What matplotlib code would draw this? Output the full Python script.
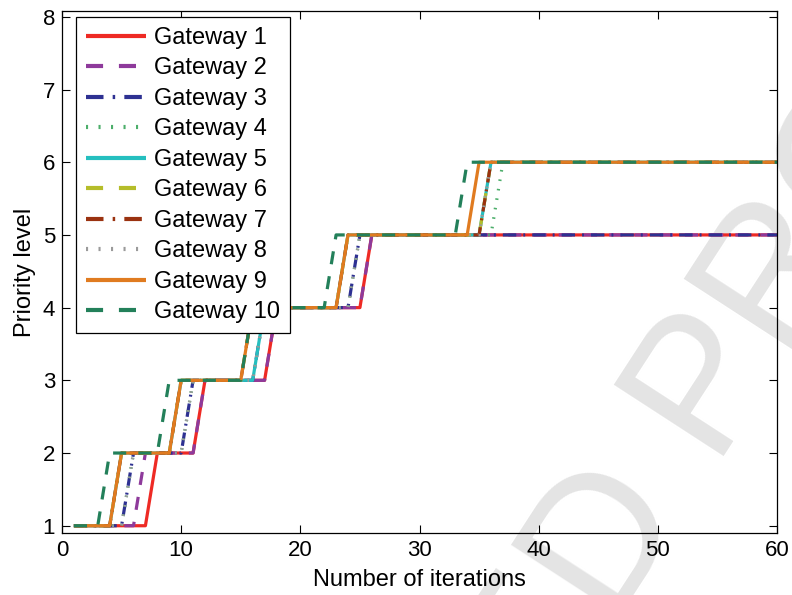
import matplotlib
matplotlib.use("Agg")
import matplotlib.pyplot as plt

plt.rcParams['font.family'] = ['Liberation Sans', 'DejaVu Sans']

# Vertices of each gateway's priority trajectory (iteration, priority level)
g1_x = [1, 7, 8, 11, 12, 17, 18, 25, 26, 60]
g1_y = [1, 1, 2, 2, 3, 3, 4, 4, 5, 5]
g2_x = [1, 6, 7, 11, 12, 17, 18, 25, 26, 60]
g2_y = [1, 1, 2, 2, 3, 3, 4, 4, 5, 5]
g3_x = [1, 5, 6, 10, 11, 16, 17, 24, 25, 60]
g3_y = [1, 1, 2, 2, 3, 3, 4, 4, 5, 5]
g4_x = [1, 5, 6, 10, 11, 16, 17, 24, 25, 36, 37, 60]
g4_y = [1, 1, 2, 2, 3, 3, 4, 4, 5, 5, 6, 6]
g5_x = [1, 4, 5, 9, 10, 16, 17, 23, 24, 35, 36, 60]
g5_y = [1, 1, 2, 2, 3, 3, 4, 4, 5, 5, 6, 6]
g6_x = [1, 4, 5, 9, 10, 15, 16, 23, 24, 35, 36, 60]
g6_y = [1, 1, 2, 2, 3, 3, 4, 4, 5, 5, 6, 6]
g7_x = [1, 4, 5, 9, 10, 15, 16, 23, 24, 35, 36, 60]
g7_y = [1, 1, 2, 2, 3, 3, 4, 4, 5, 5, 6, 6]
g8_x = [1, 5, 6, 10, 11, 16, 17, 24, 25, 35, 36, 60]
g8_y = [1, 1, 2, 2, 3, 3, 4, 4, 5, 5, 6, 6]
g9_x = [1, 4, 5, 9, 10, 15, 16, 23, 24, 34, 35, 60]
g9_y = [1, 1, 2, 2, 3, 3, 4, 4, 5, 5, 6, 6]
g10_x = [1, 3, 4, 8, 9, 15, 16, 22, 23, 33, 34, 60]
g10_y = [1, 1, 2, 2, 3, 3, 4, 4, 5, 5, 6, 6]

labels = ['Gateway %d' % i for i in range(1, 11)]
xs = [g1_x, g2_x, g3_x, g4_x, g5_x, g6_x, g7_x, g8_x, g9_x, g10_x]
ys = [g1_y, g2_y, g3_y, g4_y, g5_y, g6_y, g7_y, g8_y, g9_y, g10_y]

colors = ['#ee2a24', '#8e3a9b', '#2e3192', '#4cae6a', '#25bfbf',
          '#b5bd2a', '#9a3210', '#9a9a9a', '#e07b20', '#23805a']
dash = (0, (4.1, 3.8))
dashdot = (0, (4.2, 2.2, 0.6, 2.2))
dot = (0, (0.5, 2.5))
styles = ['-', dash, dashdot, dot, '-', dash, dashdot, dot, '-', dash]

fig = plt.figure(figsize=(7.92, 5.95), dpi=100)
ax = fig.add_axes([62/792, 1-533/595, 715/792, 522/595])
ax.patch.set_alpha(0)

# watermark
fig.text(425/792, 1-790/595, 'UNCORRECTED PROOF', fontsize=137,
         color='#e4e4e4', rotation=57, ha='center', va='center_baseline',
         zorder=-1, rotation_mode='anchor')

lw = 2.3
for x, y, c, s, lab in zip(xs, ys, colors, styles, labels):
    ax.plot(x, y, color=c, linestyle=s, linewidth=lw, label=lab,
            solid_capstyle='butt', dash_capstyle='butt')

ax.set_xlim(0, 60)
ax.set_ylim(0.9, 8.08)
ax.set_xticks([0, 10, 20, 30, 40, 50, 60])
ax.set_yticks([1, 2, 3, 4, 5, 6, 7, 8])
ax.tick_params(direction='in', length=5.5, width=0.8, top=True, right=True,
               labelsize=16, pad=5)
for sp in ax.spines.values():
    sp.set_linewidth(0.9)

ax.set_xlabel('Number of iterations', fontsize=17, labelpad=6)
ax.set_ylabel('Priority level', fontsize=17, labelpad=5)

leg = ax.legend(loc='upper left', bbox_to_anchor=(14/715, 1-6/522),
                borderaxespad=0, fontsize=17, frameon=True, fancybox=False,
                edgecolor='black', framealpha=1, handlelength=2.55,
                handletextpad=0.32, labelspacing=0.36, borderpad=0.42)
leg.get_frame().set_linewidth(0.9)
for h in leg.get_lines():
    h.set_linewidth(3.0)

fig.savefig('out.png', dpi=100)
